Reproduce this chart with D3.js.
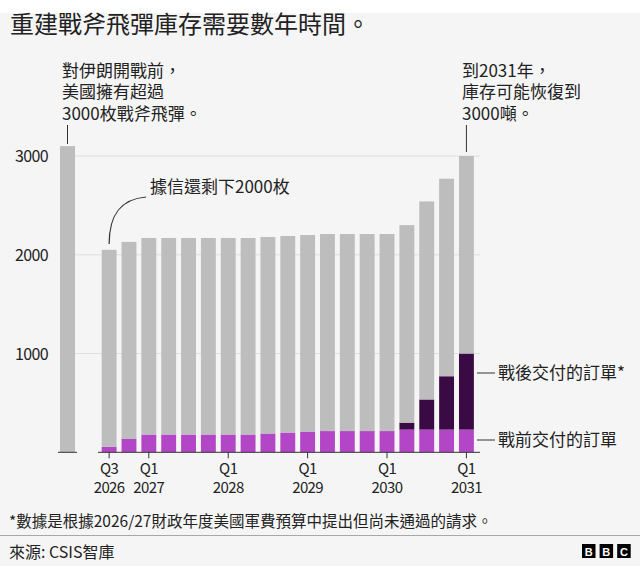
<!DOCTYPE html>
<html>
<head>
<meta charset="utf-8">
<script src="https://cdn.jsdelivr.net/npm/d3@7"></script>
<style>
  body { margin: 0; background: #f5f5f5; }
  svg { display: block; font-family: "Noto Sans CJK TC", "Noto Sans", sans-serif; }
</style>
</head>
<body>
<script>
const width = 640;
const height = 566;

// data
const quarters = ["Q3 2026","Q4 2026","Q1 2027","Q2 2027","Q3 2027","Q4 2027",
  "Q1 2028","Q2 2028","Q3 2028","Q4 2028","Q1 2029","Q2 2029","Q3 2029","Q4 2029",
  "Q1 2030","Q2 2030","Q3 2030","Q4 2030","Q1 2031"];
const existingStock = [1995,1995,1990,1990,1990,1990,1990,1990,1990,1990,1990,1995,1995,1995,1995,2000,2005,2000,2000];
const preWarOrders = [55,135,180,180,180,180,180,180,190,200,210,215,215,215,215,230,230,230,230];
const postWarOrders = [0,0,0,0,0,0,0,0,0,0,0,0,0,0,0,70,305,540,770];
const beforeWar = [{label: "戰前", value: 3100}];
const yTicks = [1000, 2000, 3000];
const xTickLabels = [
  {q: "Q3 2026", top: "Q3", bottom: "2026"},
  {q: "Q1 2027", top: "Q1", bottom: "2027"},
  {q: "Q1 2028", top: "Q1", bottom: "2028"},
  {q: "Q1 2029", top: "Q1", bottom: "2029"},
  {q: "Q1 2030", top: "Q1", bottom: "2030"},
  {q: "Q1 2031", top: "Q1", bottom: "2031"},
];

const colors = {
  stock: "#bdbdbd",
  pre: "#b346c6",
  post: "#3a0a44",
  text: "#222222",
  line: "#333333",
};

const y_base = 452.3;
const y_top = 156;

const table = quarters.map((q, i) => ({
  q: q,
  pre: preWarOrders[i],
  post: postWarOrders[i],
  stock: existingStock[i],
}));

const svg = d3.select("body").append("svg")
  .attr("width", width)
  .attr("height", height);

svg.append("rect").attr("width", width).attr("height", height).attr("fill", "#f5f5f5");
svg.append("rect").attr("width", width).attr("height", 13).attr("fill", "#ffffff");

// title
svg.append("text")
  .attr("x", 10).attr("y", 33)
  .attr("font-size", 24)
  .attr("fill", colors.text)
  .text("重建戰斧飛彈庫存需要數年時間。");

const yScale = d3.scaleLinear().domain([0, 3000]).range([y_base, y_top]);

const xScale = d3.scaleBand()
  .domain(quarters)
  .range([99.2, 99.2 + 19 * 19.85])
  .paddingInner(0.25)
  .paddingOuter(0.125);

const xFirst = d3.scaleBand()
  .domain(beforeWar.map(d => d.label))
  .range([60, 75]);

// grid
const grid = svg.append("g").attr("class", "grid");
grid.selectAll("line")
  .data(yTicks)
  .enter().append("line")
  .attr("x1", 60).attr("x2", 480)
  .attr("y1", d => yScale(d)).attr("y2", d => yScale(d))
  .attr("stroke", "#dedede")
  .attr("stroke-width", 1);

grid.selectAll("text")
  .data(yTicks)
  .enter().append("text")
  .attr("x", 48)
  .attr("y", d => yScale(d) + 6)
  .attr("text-anchor", "end")
  .attr("font-size", 16)
  .attr("letter-spacing", -0.6)
  .attr("fill", colors.text)
  .text(d => d);

// pre-war bar
svg.append("g").selectAll("rect")
  .data(beforeWar)
  .enter().append("rect")
  .attr("x", d => xFirst(d.label))
  .attr("width", xFirst.bandwidth())
  .attr("y", d => yScale(d.value))
  .attr("height", d => yScale(0) - yScale(d.value))
  .attr("fill", colors.stock);

// stacked bars
const stack = d3.stack().keys(["pre", "post", "stock"]);
const series = stack(table);
const fillFor = {pre: colors.pre, post: colors.post, stock: colors.stock};

svg.append("g").selectAll("g")
  .data(series)
  .enter().append("g")
  .attr("fill", d => fillFor[d.key])
  .selectAll("rect")
  .data(d => d.filter(p => p[1] > p[0]))
  .enter().append("rect")
  .attr("x", d => xScale(d.data.q))
  .attr("width", xScale.bandwidth())
  .attr("y", d => yScale(d[1]))
  .attr("height", d => yScale(d[0]) - yScale(d[1]));

// baselines
svg.append("line")
  .attr("x1", 58).attr("x2", 77)
  .attr("y1", y_base).attr("y2", y_base)
  .attr("stroke", colors.line).attr("stroke-width", 1);
svg.append("line")
  .attr("x1", 98).attr("x2", 480)
  .attr("y1", y_base).attr("y2", y_base)
  .attr("stroke", colors.line).attr("stroke-width", 1);

// x ticks
const xt = svg.append("g").selectAll("g")
  .data(xTickLabels)
  .enter().append("g")
  .attr("transform", d => "translate(" + (xScale(d.q) + xScale.bandwidth() / 2) + ",0)");
xt.append("line")
  .attr("y1", y_base).attr("y2", y_base + 6)
  .attr("stroke", colors.line);
xt.append("text")
  .attr("y", 474)
  .attr("text-anchor", "middle")
  .attr("font-size", 15)
  .attr("letter-spacing", -0.6)
  .attr("fill", colors.text)
  .text(d => d.top);
xt.append("text")
  .attr("y", 493)
  .attr("text-anchor", "middle")
  .attr("font-size", 15)
  .attr("letter-spacing", -0.6)
  .attr("fill", colors.text)
  .text(d => d.bottom);

// annotations, one text per line
function multiline(x, lines) {
  lines.forEach((s, i) => {
    svg.append("text")
      .attr("x", x).attr("y", 77 + i * 21.3)
      .attr("font-size", 17)
      .attr("fill", colors.text)
      .text(s);
  });
}
multiline(62, ["對伊朗開戰前，", "美國擁有超過", "3000枚戰斧飛彈。"]);
multiline(462, ["到2031年，", "庫存可能恢復到", "3000噸。"]);

const firstCx = xFirst(beforeWar[0].label) + xFirst.bandwidth() / 2;
svg.append("line")
  .attr("x1", firstCx).attr("x2", firstCx)
  .attr("y1", 125).attr("y2", 144)
  .attr("stroke", colors.line);
const lastQ = quarters[quarters.length - 1];
const lastCx = xScale(lastQ) + xScale.bandwidth() / 2;
svg.append("line")
  .attr("x1", lastCx).attr("x2", lastCx)
  .attr("y1", 125).attr("y2", 152)
  .attr("stroke", colors.line);

const q0 = xScale(quarters[0]) + xScale.bandwidth() / 2;
svg.append("path")
  .attr("d", "M" + q0 + ",244 C" + q0 + ",214 " + (q0 + 12) + ",199 " + (q0 + 37) + ",197")
  .attr("fill", "none")
  .attr("stroke", colors.line)
  .attr("stroke-width", 1.2);
svg.append("text")
  .attr("x", 150).attr("y", 193)
  .attr("font-size", 17)
  .attr("fill", colors.text)
  .text("據信還剩下2000枚");

// legend labels
const legendItems = [
  {label: "戰後交付的訂單*", y: 373},
  {label: "戰前交付的訂單", y: 440},
];
const lg = svg.append("g").selectAll("g")
  .data(legendItems)
  .enter().append("g");
lg.append("line")
  .attr("x1", 477).attr("x2", 495)
  .attr("y1", d => d.y).attr("y2", d => d.y)
  .attr("stroke", colors.line);
lg.append("text")
  .attr("x", 498).attr("y", d => d.y + 6)
  .attr("font-size", 17)
  .attr("fill", colors.text)
  .text(d => d.label);

// footer
svg.append("text")
  .attr("x", 9).attr("y", 527)
  .attr("font-size", 15.5)
  .attr("fill", colors.text)
  .text("*數據是根據2026/27財政年度美國軍費預算中提出但尚未通過的請求。");
svg.append("line")
  .attr("x1", 0).attr("x2", width)
  .attr("y1", 535.5).attr("y2", 535.5)
  .attr("stroke", "#a8a8a8").attr("stroke-width", 1);
svg.append("text")
  .attr("x", 9).attr("y", 558)
  .attr("font-size", 16)
  .attr("fill", colors.text)
  .text("來源: CSIS智庫");

const bbc = svg.append("g").selectAll("g")
  .data(["B", "B", "C"])
  .enter().append("g")
  .attr("transform", (d, i) => "translate(" + (582 + i * 17.6) + ",544)");
bbc.append("rect").attr("width", 13.5).attr("height", 14).attr("fill", "#000");
bbc.append("text")
  .attr("x", 6.75).attr("y", 11.5)
  .attr("text-anchor", "middle")
  .attr("font-size", 11)
  .attr("font-weight", "bold")
  .attr("font-family", "Liberation Sans, sans-serif")
  .attr("fill", "#fff")
  .text(d => d);
</script>
</body>
</html>
